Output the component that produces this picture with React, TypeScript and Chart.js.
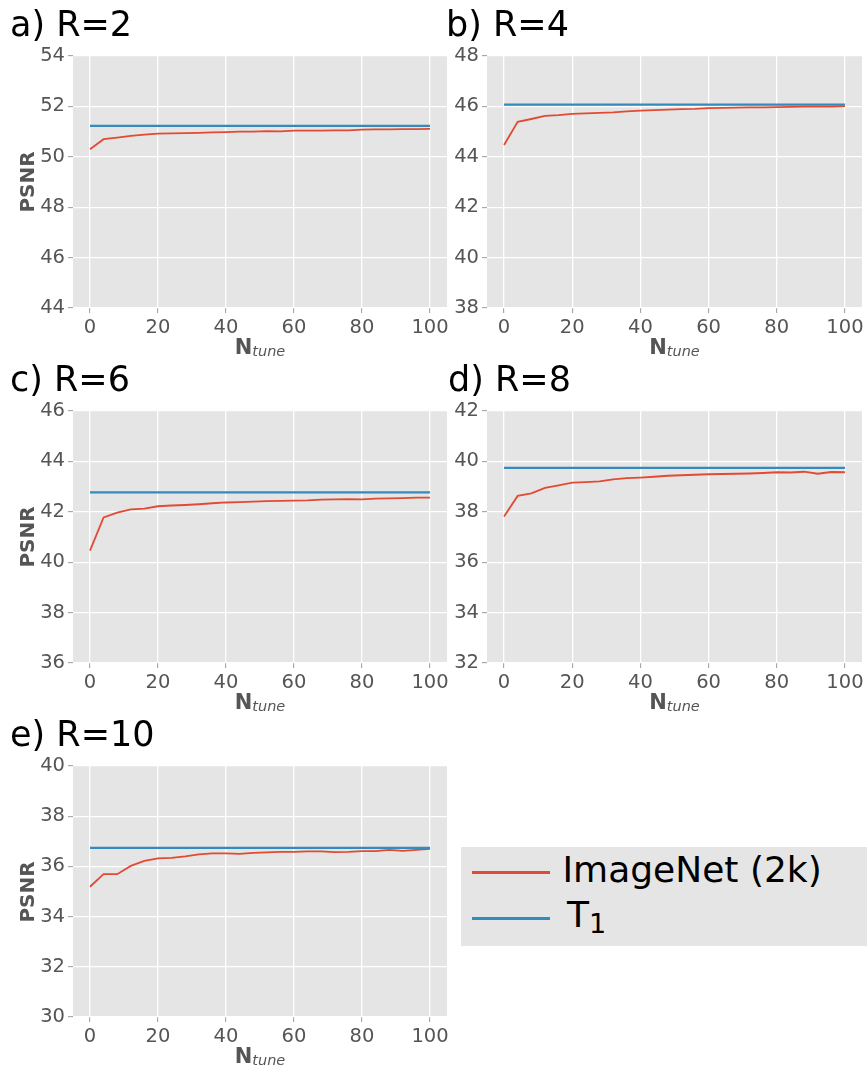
import React, { useEffect, useRef } from "react";
import { Chart, registerables } from "chart.js";

Chart.register(...registerables);

// ---------- data ----------
const nTune = [0, 4, 8, 12, 16, 20, 24, 28, 32, 36, 40, 44, 48, 52, 56, 60, 64, 68, 72, 76, 80, 84, 88, 92, 96, 100];
const xTicks = [0, 20, 40, 60, 80, 100];

const imagenetR2 = [50.3, 50.7, 50.76, 50.83, 50.88, 50.92, 50.93, 50.94, 50.95, 50.97, 50.98, 51.0, 51.0, 51.02, 51.01, 51.04, 51.04, 51.04, 51.05, 51.05, 51.08, 51.09, 51.09, 51.1, 51.1, 51.11];
const imagenetR4 = [44.47, 45.39, 45.5, 45.62, 45.65, 45.7, 45.72, 45.74, 45.76, 45.8, 45.83, 45.85, 45.87, 45.89, 45.9, 45.93, 45.94, 45.95, 45.96, 45.96, 45.97, 45.98, 45.99, 45.99, 45.99, 46.01];
const imagenetR6 = [40.46, 41.78, 41.97, 42.1, 42.13, 42.22, 42.25, 42.27, 42.3, 42.34, 42.37, 42.38, 42.4, 42.42, 42.43, 42.44, 42.45, 42.48, 42.49, 42.5, 42.49, 42.52, 42.53, 42.54, 42.56, 42.56];
const imagenetR8 = [37.81, 38.63, 38.73, 38.95, 39.05, 39.16, 39.18, 39.21, 39.29, 39.34, 39.36, 39.39, 39.43, 39.45, 39.47, 39.49, 39.5, 39.51, 39.52, 39.54, 39.57, 39.56, 39.59, 39.51, 39.58, 39.57];
const imagenetR10 = [35.19, 35.69, 35.69, 36.02, 36.22, 36.32, 36.34, 36.4, 36.48, 36.52, 36.52, 36.5, 36.54, 36.56, 36.58, 36.58, 36.6, 36.6, 36.57, 36.58, 36.61, 36.61, 36.66, 36.62, 36.66, 36.7];

const t1Values = [51.23, 46.07, 42.77, 39.74, 36.74];
const panelTitles = ["a) R=2", "b) R=4", "c) R=6", "d) R=8", "e) R=10"];
const yMins = [44, 38, 36, 32, 30];
const yMaxs = [54, 48, 46, 42, 40];
const yStep = 2;

// ---------- styling / layout ----------
const PLOT_BG = "#E5E5E5";
const RED = "#E24A33";
const BLUE = "#348ABD";
const TICK = "#555555";
const FONT = "'DejaVu Sans', sans-serif";

const AX_W = 50;
const AX_H = 40;
const PAD_T = 15;
const PAD_R = 12;

// plot rectangles (page coords)
const rects = [
  { l: 73, t: 56, r: 447, b: 308, ylabel: true },
  { l: 487, t: 56, r: 862, b: 308, ylabel: false },
  { l: 73, t: 411, r: 447, b: 663, ylabel: true },
  { l: 487, t: 411, r: 862, b: 663, ylabel: false },
  { l: 73, t: 766, r: 447, b: 1017, ylabel: true },
];
const titleLefts = [10, 446, 10, 448, 10];

const seriesList = [imagenetR2, imagenetR4, imagenetR6, imagenetR8, imagenetR10];

const bgPlugin = {
  id: "plotBg",
  beforeDraw(chart: any) {
    const { ctx, chartArea: a } = chart;
    ctx.save();
    ctx.fillStyle = PLOT_BG;
    ctx.fillRect(a.left, a.top, a.right - a.left, a.bottom - a.top);
    ctx.restore();
  },
};

function Panel({ idx }: { idx: number }) {
  const ref = useRef<HTMLCanvasElement | null>(null);
  const rc = rects[idx];
  const cw = rc.r - rc.l + AX_W + PAD_R;
  const ch = rc.b - rc.t + PAD_T + AX_H;

  useEffect(() => {
    const red = seriesList[idx];
    const yMin = yMins[idx];
    const yMax = yMaxs[idx];
    const yTicks: number[] = [];
    for (let v = yMin; v <= yMax + 1e-9; v += yStep) yTicks.push(v);

    const gridCommon = {
      color: "#FFFFFF",
      lineWidth: 1.3,
      drawTicks: true,
      tickLength: 5,
      tickColor: "#9a9a9a",
      tickWidth: 1,
    };
    const tickCommon = {
      color: TICK,
      font: { family: FONT, size: 19.5 },
      padding: 3,
      maxRotation: 0,
      autoSkip: false,
    };

    const chart = new Chart(ref.current as HTMLCanvasElement, {
      type: "line",
      data: {
        datasets: [
          {
            label: "ImageNet (2k)",
            data: nTune.map((x, i) => ({ x, y: red[i] })),
            borderColor: RED,
            borderWidth: 1.8,
            pointRadius: 0,
            tension: 0,
            order: 1,
          },
          {
            label: "T1",
            data: [
              { x: nTune[0], y: t1Values[idx] },
              { x: nTune[nTune.length - 1], y: t1Values[idx] },
            ],
            borderColor: BLUE,
            borderWidth: 2.2,
            pointRadius: 0,
            tension: 0,
            order: 0,
          },
        ],
      },
      options: {
        animation: false,
        responsive: false,
        events: [],
        layout: { padding: { left: 0, top: PAD_T, right: PAD_R, bottom: 0 } },
        plugins: { legend: { display: false }, tooltip: { enabled: false } },
        scales: {
          x: {
            type: "linear",
            min: -5,
            max: 105,
            afterBuildTicks: (s: any) => {
              s.ticks = xTicks.map((v) => ({ value: v }));
            },
            afterFit: (s: any) => {
              s.height = AX_H;
            },
            grid: gridCommon,
            ticks: tickCommon,
            border: { display: false },
          },
          y: {
            type: "linear",
            min: yMin,
            max: yMax,
            afterBuildTicks: (s: any) => {
              s.ticks = yTicks.map((v) => ({ value: v }));
            },
            afterFit: (s: any) => {
              s.width = AX_W;
            },
            grid: gridCommon,
            ticks: tickCommon,
            border: { display: false },
          },
        },
      } as any,
      plugins: [bgPlugin],
    });
    return () => chart.destroy();
  }, [idx]);

  const titleSize = 35;
  const nSize = 21;
  const psnrSize = 20;

  return (
    <>
      <canvas
        ref={ref}
        width={cw}
        height={ch}
        style={{
          position: "absolute",
          left: rc.l - AX_W,
          top: rc.t - PAD_T,
          width: cw,
          height: ch,
        }}
      />
      <div
        style={{
          position: "absolute",
          left: titleLefts[idx],
          top: rc.t - 19 - titleSize * 0.846,
          fontSize: titleSize,
          lineHeight: `${titleSize}px`,
          fontFamily: FONT,
          color: "#000",
          whiteSpace: "nowrap",
        }}
      >
        {panelTitles[idx]}
      </div>
      <div
        style={{
          position: "absolute",
          left: rc.l,
          width: rc.r - rc.l,
          top: rc.b + 47 - nSize * 0.846,
          fontSize: nSize,
          lineHeight: `${nSize}px`,
          fontFamily: FONT,
          color: TICK,
          textAlign: "center",
          whiteSpace: "nowrap",
        }}
      >
        <span style={{ fontWeight: "bold" }}>N</span>
        <span style={{ fontStyle: "italic", fontSize: 14.5, position: "relative", top: 2 }}>tune</span>
      </div>
      {rc.ylabel && (
        <div
          style={{
            position: "absolute",
            left: 27 - 100,
            width: 200,
            top: (rc.t + rc.b) / 2 - psnrSize / 2,
            height: psnrSize,
            fontSize: psnrSize,
            lineHeight: `${psnrSize}px`,
            fontFamily: FONT,
            fontWeight: "bold",
            color: TICK,
            textAlign: "center",
            transform: "rotate(-90deg)",
            whiteSpace: "nowrap",
          }}
        >
          PSNR
        </div>
      )}
    </>
  );
}

function Legend() {
  const fs = 36;
  return (
    <div
      style={{
        position: "absolute",
        left: 461,
        top: 847,
        width: 406,
        height: 99,
        background: PLOT_BG,
        fontFamily: FONT,
        color: "#000",
      }}
    >
      <div style={{ position: "absolute", left: 11, top: 23.5, width: 78, height: 3, background: RED }} />
      <div style={{ position: "absolute", left: 11, top: 69.5, width: 78, height: 3, background: BLUE }} />
      <div
        style={{
          position: "absolute",
          left: 101.5,
          top: 882 - 847 - fs * 0.846,
          fontSize: fs,
          lineHeight: `${fs}px`,
          whiteSpace: "nowrap",
        }}
      >
        ImageNet (2k)
      </div>
      <div
        style={{
          position: "absolute",
          left: 106,
          top: 927 - 847 - fs * 0.846,
          fontSize: fs,
          lineHeight: `${fs}px`,
          whiteSpace: "nowrap",
        }}
      >
        T<span style={{ fontSize: 27, position: "relative", top: 6 }}>1</span>
      </div>
    </div>
  );
}

export default function App() {
  return (
    <div
      style={{
        position: "absolute",
        left: 0,
        top: 0,
        width: 867,
        height: 1070,
        overflow: "hidden",
        background: "#fff",
      }}
    >
      {rects.map((_, i) => (
        <Panel key={i} idx={i} />
      ))}
      <Legend />
    </div>
  );
}
